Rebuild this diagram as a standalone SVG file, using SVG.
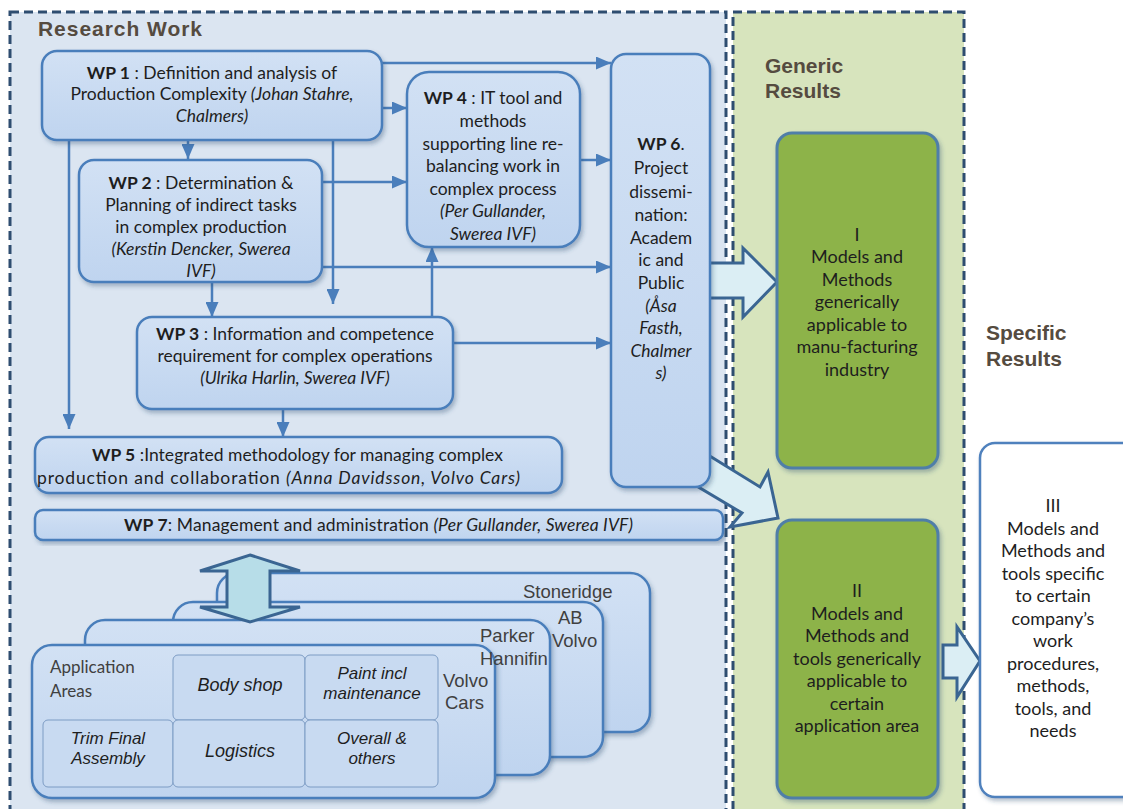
<svg xmlns="http://www.w3.org/2000/svg" width="1123" height="809" viewBox="0 0 1123 809">
<defs>
<linearGradient id="gBox" x1="0" y1="0" x2="0" y2="1"><stop offset="0" stop-color="#d2e1f4"/><stop offset="1" stop-color="#bfd4ef"/></linearGradient>
<filter id="sh" x="-10%" y="-10%" width="125%" height="130%"><feDropShadow dx="2" dy="3" stdDeviation="2" flood-color="#2b4a6e" flood-opacity="0.35"/></filter>
<marker id="ah" markerUnits="userSpaceOnUse" markerWidth="15" markerHeight="13" viewBox="0 0 15 13" refX="15" refY="6.5" orient="auto"><path d="M0,0 L15,6.5 L0,13 z" fill="#4a7ebb"/></marker>
<style>
.pr{fill:#dbe5f1;stroke:#2e4d70;stroke-width:3;stroke-dasharray:9 5}
.pg{fill:#d7e4bd;stroke:#2e4d70;stroke-width:3;stroke-dasharray:9 5}
.box{fill:url(#gBox);stroke:#4a7ebb;stroke-width:2.5;filter:url(#sh)}
.cell{fill:#c8daf1;stroke:#7d9cc4;stroke-width:1}
.grn{fill:#8db349;stroke:#4f7ea8;stroke-width:3;filter:url(#sh)}
.wht{fill:#ffffff;stroke:#4f81bd;stroke-width:2.5;filter:url(#sh)}
.t{font-family:Lato,"Open Sans",sans-serif;font-size:17.5px;fill:#1e1e1e;text-anchor:middle}
.ts{font-family:Lato,"Open Sans",sans-serif;font-size:17.5px;fill:#1e1e1e}
.r{font-size:18px}
.b{font-weight:bold}
.i{font-style:italic}
.hd{font-family:"Liberation Sans",Arial,sans-serif;font-weight:bold;font-size:21px;fill:#554b40}
.ar{font-family:"Liberation Sans",Arial,sans-serif;font-size:18.5px;fill:#404040}
.ari{font-family:"Liberation Sans",Arial,sans-serif;font-size:18px;font-style:italic;fill:#1e1e1e;text-anchor:middle}
.ari2{font-size:17px}
.conn{stroke:#4a7ebb;stroke-width:2.5;fill:none;marker-end:url(#ah)}
.blk{fill:#dbeef4;stroke:#3a6592;stroke-width:3;stroke-linejoin:miter}
.blk2{fill:#b7dde8;stroke:#3a6592;stroke-width:3}
</style>
</defs>

<g id="panels">
<rect class="pr" x="10" y="12" width="716" height="812"/>
<rect class="pg" x="733" y="12" width="231" height="812"/>
<text class="hd" x="38" y="36" font-size="19" textLength="164" lengthAdjust="spacing">Research Work</text>
<text class="hd" x="765" y="73">Generic</text>
<text class="hd" x="765" y="98">Results</text>
<text class="hd" x="986" y="340">Specific</text>
<text class="hd" x="986" y="366">Results</text>
</g>

<g id="block-arrows">
<polygon class="blk" points="698,263 743,263 743,248 777,282 743,317 743,298 698,298"/>
<polygon class="blk" points="700,450 760,487 768,472 778,518 730,527 742,513 690,482"/>
<polygon class="blk" points="943,645 957,645 957,627 980,661 957,697 957,678 943,678"/>
</g>

<g id="connectors">
<path class="conn" d="M382,63 H611"/>
<path class="conn" d="M382,108 H407"/>
<path class="conn" d="M322,182 H407"/>
<path class="conn" d="M580,160 H611"/>
<path class="conn" d="M333,140 V304"/>
<path class="conn" d="M322,267 H611"/>
<path class="conn" d="M188,140 V159"/>
<path class="conn" d="M69,140 V429"/>
<path class="conn" d="M212,282 V317"/>
<path class="conn" d="M283,410 V437"/>
<path class="conn" d="M432,317 V247"/>
<path class="conn" d="M453,343 H611"/>
</g>

<g id="wp1">
<rect class="box" x="42" y="51" width="340" height="89" rx="15"/>
<text class="t" x="212" y="79"><tspan class="b">WP 1</tspan> : Definition and analysis of</text>
<text class="t" x="212" y="100">Production Complexity <tspan class="i">(Johan Stahre,</tspan></text>
<text class="t i" x="212" y="122">Chalmers)</text>
</g>

<g id="wp2">
<rect class="box" x="79" y="160" width="243" height="122" rx="15"/>
<text class="t" x="201" y="189"><tspan class="b">WP 2</tspan> : Determination &amp;</text>
<text class="t" x="201" y="211">Planning of  indirect tasks</text>
<text class="t" x="201" y="233">in complex production</text>
<text class="t i" x="201" y="255">(Kerstin Dencker, Swerea</text>
<text class="t i" x="201" y="277">IVF)</text>
</g>

<g id="wp4">
<rect class="box" x="407" y="72" width="173" height="175" rx="22"/>
<text class="t" x="493" y="104"><tspan class="b">WP 4</tspan> : IT tool and</text>
<text class="t" x="493" y="127">methods</text>
<text class="t" x="493" y="150">supporting line re-</text>
<text class="t" x="493" y="172">balancing work in</text>
<text class="t" x="493" y="195">complex process</text>
<text class="t i" x="493" y="217">(Per Gullander,</text>
<text class="t i" x="493" y="240">Swerea IVF)</text>
</g>

<g id="wp3">
<rect class="box" x="137" y="317" width="316" height="92" rx="15"/>
<text class="t" x="295" y="340"><tspan class="b">WP 3</tspan> : Information and competence</text>
<text class="t" x="295" y="362">requirement for complex operations</text>
<text class="t i" x="295" y="384">(Ulrika Harlin, Swerea IVF)</text>
</g>

<g id="wp6">
<rect class="box" x="611" y="54" width="99" height="433" rx="15"/>
<text class="t" x="661" y="150"><tspan class="b">WP  6</tspan>.</text>
<text class="t" x="661" y="174">Project</text>
<text class="t" x="661" y="198">dissemi-</text>
<text class="t" x="661" y="221">nation:</text>
<text class="t" x="661" y="244">Academ</text>
<text class="t" x="661" y="266">ic and</text>
<text class="t" x="661" y="289">Public</text>
<text class="t i" x="661" y="312">(Åsa</text>
<text class="t i" x="661" y="334">Fasth,</text>
<text class="t i" x="661" y="357">Chalmer</text>
<text class="t i" x="661" y="379">s)</text>
</g>

<g id="wp5">
<rect class="box" x="35" y="437" width="527" height="56" rx="14"/>
<text class="ts" x="92" y="461" textLength="411" lengthAdjust="spacing"><tspan class="b">WP 5</tspan> :Integrated methodology for managing complex</text>
<text class="ts" x="37" y="484" textLength="483" lengthAdjust="spacing">production and collaboration <tspan class="i">(Anna Davidsson, Volvo Cars)</tspan></text>
</g>

<g id="wp7">
<rect class="box" x="35" y="510" width="688" height="30" rx="8"/>
<text class="ts" x="124" y="531" textLength="509" lengthAdjust="spacing"><tspan class="b">WP 7</tspan>: Management and administration <tspan class="i">(Per Gullander, Swerea IVF)</tspan></text>
</g>

<g id="result-1">
<rect class="grn" x="777" y="133" width="161" height="335" rx="15"/>
<text class="t r" x="857" y="241">I</text>
<text class="t r" x="857" y="263">Models and</text>
<text class="t r" x="857" y="286">Methods</text>
<text class="t r" x="857" y="308">generically</text>
<text class="t r" x="857" y="331">applicable to</text>
<text class="t r" x="857" y="353">manu-facturing</text>
<text class="t r" x="857" y="376">industry</text>
</g>

<g id="result-2">
<rect class="grn" x="777" y="520" width="161" height="278" rx="15"/>
<text class="t r" x="857" y="597">II</text>
<text class="t r" x="857" y="620">Models and</text>
<text class="t r" x="857" y="642">Methods and</text>
<text class="t r" x="857" y="665">tools generically</text>
<text class="t r" x="857" y="687">applicable to</text>
<text class="t r" x="857" y="710">certain</text>
<text class="t r" x="857" y="732">application area</text>
</g>

<g id="result-3">
<rect class="wht" x="980" y="443" width="160" height="354" rx="15"/>
<text class="t r" x="1053" y="512">III</text>
<text class="t r" x="1053" y="535">Models and</text>
<text class="t r" x="1053" y="557">Methods and</text>
<text class="t r" x="1053" y="580">tools specific</text>
<text class="t r" x="1053" y="602">to certain</text>
<text class="t r" x="1053" y="625">company’s</text>
<text class="t r" x="1053" y="647">work</text>
<text class="t r" x="1053" y="670">procedures,</text>
<text class="t r" x="1053" y="692">methods,</text>
<text class="t r" x="1053" y="715">tools, and</text>
<text class="t r" x="1053" y="737">needs</text>
</g>

<g id="stoneridge">
<rect class="box" x="217" y="573" width="433" height="159" rx="20"/>
</g>
<g id="ab-volvo">
<rect class="box" x="173" y="602" width="430" height="155" rx="20"/>
</g>
<g id="parker-hannifin">
<rect class="box" x="85" y="620" width="465" height="155" rx="20"/>
</g>
<g id="volvo-cars">
<rect class="box" x="32" y="645" width="463" height="153" rx="20"/>
<text class="ar" x="443" y="687">Volvo</text>
<text class="ar" x="445" y="709">Cars</text>
<text class="ts" x="50" y="673" style="fill:#404040;font-size:17px">Application</text>
<text class="ts" x="50" y="697" style="fill:#404040;font-size:17px">Areas</text>
<rect class="cell" x="173" y="655" width="132" height="65" rx="5"/>
<rect class="cell" x="305" y="655" width="133" height="65" rx="5"/>
<rect class="cell" x="43" y="720" width="130" height="67" rx="5"/>
<rect class="cell" x="173" y="720" width="132" height="67" rx="5"/>
<rect class="cell" x="305" y="720" width="133" height="67" rx="5"/>
<text class="ari" x="240" y="691">Body shop</text>
<text class="ari ari2" x="372" y="679">Paint incl</text>
<text class="ari ari2" x="372" y="699">maintenance</text>
<text class="ari ari2" x="108" y="744">Trim Final</text>
<text class="ari ari2" x="108" y="764">Assembly</text>
<text class="ari" x="240" y="757">Logistics</text>
<text class="ari ari2" x="372" y="744">Overall &amp;</text>
<text class="ari ari2" x="372" y="764">others</text>
</g>

<g id="company-labels">
<text class="ar" x="523" y="598">Stoneridge</text>
<text class="ar" x="558" y="624">AB</text>
<text class="ar" x="552" y="647">Volvo</text>
<text class="ar" x="480" y="642">Parker</text>
<text class="ar" x="480" y="665">Hannifin</text>
</g>

<g id="double-arrow">
<polygon class="blk2" points="250,555 300,571 270,571 270,607 300,607 250,622 200,607 227,607 227,571 200,571"/>
</g>
</svg>
